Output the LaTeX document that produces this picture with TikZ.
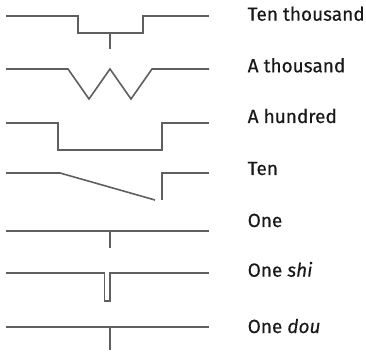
\documentclass[tikz,border=0pt]{standalone}
\usepackage{fontspec}
\setmainfont{Fira Sans}[FakeBold=0.35]
\definecolor{strokegray}{RGB}{95,95,95}
\definecolor{labelgray}{RGB}{25,25,25}
\begin{document}
\begin{tikzpicture}[x=1pt,y=-1pt,
  signal/.style={draw=strokegray,line width=1.6pt,line join=miter},
  label/.style={anchor=base west,inner sep=0pt,text=labelgray,font=\fontsize{19}{22}\selectfont}]
\useasboundingbox (0,0) rectangle (366,352);
% Ten thousand
\draw[signal] (6,16) -- (78,16) -- (78,33) -- (143,33) -- (143,16) -- (209,16);
\draw[signal] (110,33) -- (110,49);
% A thousand
\draw[signal] (6,69) -- (68,69) -- (89,99) -- (110,69) -- (131,99) -- (152,69) -- (209,69);
% A hundred
\draw[signal] (6,123) -- (58,123) -- (58,150) -- (162,150) -- (162,123) -- (209,123);
% Ten
\draw[signal] (6,173) -- (60,173) -- (155,200);
\draw[signal] (162,200) -- (162,173) -- (209,173);
% One
\draw[signal] (6,231) -- (209,231);
\draw[signal] (110,231) -- (110,248);
% One shi
\draw[signal] (6,273) -- (104.5,273) -- (104.5,301) -- (110,301) -- (110,273) -- (209,273);
% One dou
\draw[signal] (6,327) -- (209,327);
\draw[signal] (110,327) -- (110,350);
% labels
\node[label] (t1) at (247.5,20.7) {Ten thousand};
\node[label] (t2) at (247.5,72.3) {A thousand};
\node[label] (t3) at (247.5,123) {A hundred};
\node[label] (t4) at (247.5,175) {Ten};
\node[label] (t5) at (247.5,227) {One};
\node[label] (t6) at (247.5,276.7) {One \textit{shi}};
\node[label] (t7) at (247.5,333) {One \textit{dou}};
\end{tikzpicture}
\end{document}
